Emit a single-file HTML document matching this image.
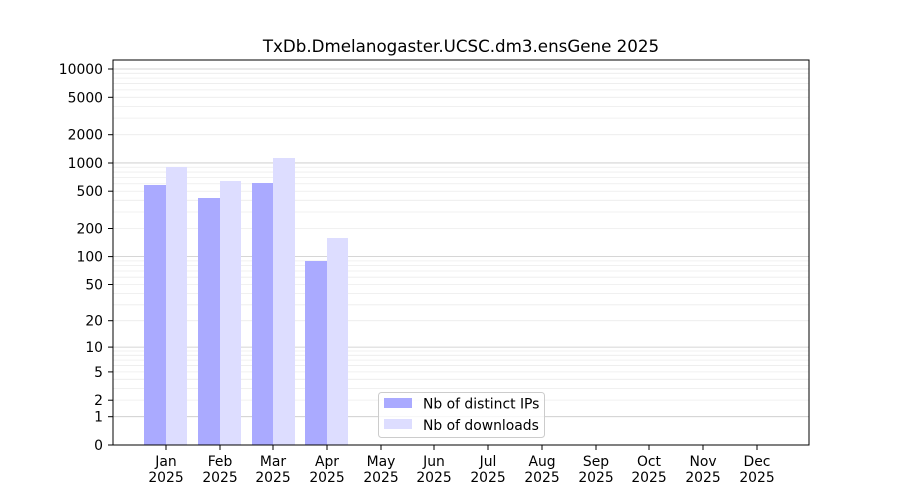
<!DOCTYPE html>
<html><head><meta charset="utf-8"><style>
html,body{margin:0;padding:0;background:#fff;}
svg{display:block;font-family:"DejaVu Sans","Liberation Sans",sans-serif;}
</style></head><body>
<svg id="s" width="900" height="500" viewBox="0 0 900 500" xmlns="http://www.w3.org/2000/svg">
<rect width="900" height="500" fill="#fff"/>
<g id="grid"></g>
<g>
<rect x="144" y="185" width="22" height="260" fill="#aaaaff"/>
<rect x="166" y="167" width="21" height="278" fill="#ddddff"/>
<rect x="198" y="198" width="22" height="247" fill="#aaaaff"/>
<rect x="220" y="181" width="21" height="264" fill="#ddddff"/>
<rect x="252" y="183" width="21" height="262" fill="#aaaaff"/>
<rect x="273" y="158" width="22" height="287" fill="#ddddff"/>
<rect x="305" y="261" width="22" height="184" fill="#aaaaff"/>
<rect x="327" y="238" width="21" height="207" fill="#ddddff"/>
</g>
<rect x="113" y="60" width="696" height="385" fill="none" stroke="#000" stroke-width="1"/>
<text x="461" y="52" font-size="16.7" text-anchor="middle">TxDb.Dmelanogaster.UCSC.dm3.ensGene 2025</text>
<g font-size="13.9" text-anchor="end">
<text x="103" y="450">0</text>
<text x="103" y="421.7">1</text>
<text x="103" y="405.2">2</text>
<text x="103" y="376.9">5</text>
<text x="103" y="352.1">10</text>
<text x="103" y="325.7">20</text>
<text x="103" y="289.5">50</text>
<text x="103" y="261.6">100</text>
<text x="103" y="233.5">200</text>
<text x="103" y="196.2">500</text>
<text x="103" y="168">1000</text>
<text x="103" y="139.7">2000</text>
<text x="103" y="102.3">5000</text>
<text x="103" y="74">10000</text>
</g>
<g stroke="#000" stroke-width="1">
<line x1="108" x2="113" y1="445" y2="445"/><line x1="108" x2="113" y1="416.7" y2="416.7"/>
<line x1="108" x2="113" y1="400.2" y2="400.2"/><line x1="108" x2="113" y1="371.9" y2="371.9"/>
<line x1="108" x2="113" y1="347.1" y2="347.1"/><line x1="108" x2="113" y1="320.7" y2="320.7"/>
<line x1="108" x2="113" y1="284.5" y2="284.5"/><line x1="108" x2="113" y1="256.6" y2="256.6"/>
<line x1="108" x2="113" y1="228.5" y2="228.5"/><line x1="108" x2="113" y1="191.2" y2="191.2"/>
<line x1="108" x2="113" y1="163" y2="163"/><line x1="108" x2="113" y1="134.7" y2="134.7"/>
<line x1="108" x2="113" y1="97.3" y2="97.3"/><line x1="108" x2="113" y1="69" y2="69"/>
</g>
<g font-size="13.9" text-anchor="middle">
<text x="166" y="466">Jan</text><text x="166" y="482">2025</text>
<text x="220" y="466">Feb</text><text x="220" y="482">2025</text>
<text x="273" y="466">Mar</text><text x="273" y="482">2025</text>
<text x="327" y="466">Apr</text><text x="327" y="482">2025</text>
<text x="381" y="466">May</text><text x="381" y="482">2025</text>
<text x="434" y="466">Jun</text><text x="434" y="482">2025</text>
<text x="488" y="466">Jul</text><text x="488" y="482">2025</text>
<text x="542" y="466">Aug</text><text x="542" y="482">2025</text>
<text x="596" y="466">Sep</text><text x="596" y="482">2025</text>
<text x="649" y="466">Oct</text><text x="649" y="482">2025</text>
<text x="703" y="466">Nov</text><text x="703" y="482">2025</text>
<text x="757" y="466">Dec</text><text x="757" y="482">2025</text>
</g>
<g stroke="#000" stroke-width="1">
<line x1="166" x2="166" y1="445" y2="450"/><line x1="220" x2="220" y1="445" y2="450"/>
<line x1="273" x2="273" y1="445" y2="450"/><line x1="327" x2="327" y1="445" y2="450"/>
<line x1="381" x2="381" y1="445" y2="450"/><line x1="434" x2="434" y1="445" y2="450"/>
<line x1="488" x2="488" y1="445" y2="450"/><line x1="542" x2="542" y1="445" y2="450"/>
<line x1="596" x2="596" y1="445" y2="450"/><line x1="649" x2="649" y1="445" y2="450"/>
<line x1="703" x2="703" y1="445" y2="450"/><line x1="757" x2="757" y1="445" y2="450"/>
</g>
<rect x="378.5" y="392.5" width="166" height="45" rx="3" fill="#fff" fill-opacity="0.8" stroke="#ccc"/>
<rect x="384" y="398" width="28" height="10" fill="#aaaaff"/>
<rect x="384" y="419" width="28" height="10" fill="#ddddff"/>
<text x="423" y="408.5" font-size="13.9">Nb of distinct IPs</text>
<text x="423" y="430" font-size="13.9">Nb of downloads</text>
</svg>
<script>
(function(){
var g=document.getElementById('grid'),ns='http://www.w3.org/2000/svg';
function y(v){return 445-94*Math.log10(v+1);}
function line(v,c){var l=document.createElementNS(ns,'line');l.setAttribute('x1',113);l.setAttribute('x2',809);
var yy=y(v);l.setAttribute('y1',yy);l.setAttribute('y2',yy);l.setAttribute('stroke',c);l.setAttribute('stroke-width',0.8);g.appendChild(l);}
for(var d=0;d<=4;d++){var b=Math.pow(10,d);
for(var k=2;k<=9;k++){var v=k*b;if(y(v)>60)line(v,'#ececec');}}
[1,10,100,1000,10000].forEach(function(v){line(v,'#c8c8c8');});
})();
</script>
</body></html>
